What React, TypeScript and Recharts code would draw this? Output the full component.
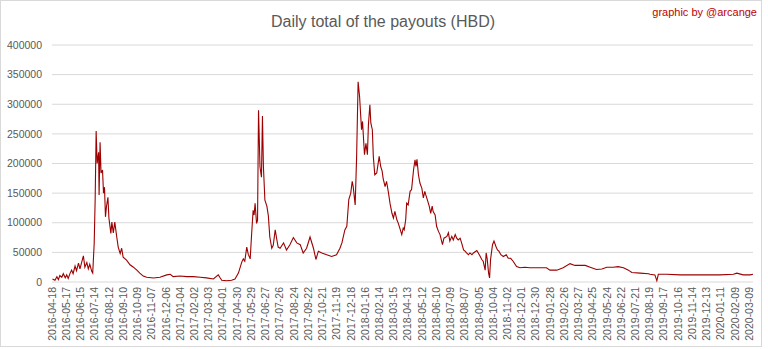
import React from 'react';
import { LineChart, Line, XAxis, YAxis, CartesianGrid } from 'recharts';

// days since 2016-04-18
const dayFromStart = [
  1, 6, 10, 13, 16, 20, 23, 27, 30, 33, 37, 40, 43, 47, 50, 54, 57, 61, 64, 67,
  71, 74, 77, 81, 83, 86, 88, 90, 92, 95, 96, 98, 100, 103, 105, 107, 109, 111, 114, 116,
  120, 122, 125, 128, 132, 135, 139, 142, 145, 152, 159, 166, 173, 179, 186, 193, 207, 220, 234, 241,
  247, 261, 275, 288, 302, 315, 329, 339, 342, 346, 356, 366, 373, 380, 387, 390, 393, 397, 400, 404,
  407, 410, 412, 414, 417, 419, 421, 424, 427, 429, 431, 434, 438, 441, 444, 448, 451, 455, 458, 461,
  465, 472, 478, 485, 492, 499, 506, 512, 519, 526, 533, 538, 543, 550, 560, 570, 580, 587, 591, 597,
  601, 605, 609, 612, 614, 618, 621, 624, 627, 631, 633, 637, 640, 643, 645, 648, 650, 653, 655, 658,
  662, 665, 667, 670, 673, 675, 679, 682, 686, 689, 693, 696, 699, 703, 706, 709, 713, 716, 718, 721,
  723, 726, 730, 733, 737, 740, 742, 744, 747, 750, 754, 757, 760, 762, 765, 769, 772, 775, 777, 781,
  784, 788, 791, 796, 799, 805, 808, 811, 815, 818, 822, 825, 828, 832, 835, 839, 842, 845, 849, 852,
  856, 859, 866, 869, 873, 876, 879, 883, 885, 887, 890, 892, 894, 898, 901, 905, 908, 911, 915, 920,
  926, 930, 935, 940, 947, 954, 964, 974, 995, 1008, 1015, 1029, 1042, 1056, 1066, 1076, 1087, 1097, 1110, 1121,
  1131, 1144, 1154, 1165, 1175, 1182, 1199, 1216, 1219, 1229, 1233, 1236, 1253, 1280, 1307, 1335, 1362, 1389, 1396, 1409,
  1423, 1429,
];

const payouts = [
  5000, 3000, 9000, 4000, 11000, 8000, 14000, 7000, 12000, 6000, 15000, 20000, 14000, 27000, 19000, 32000, 22000, 35000, 44000, 25000,
  33000, 22000, 30000, 18000, 15000, 65000, 140000, 255000, 200000, 219000, 147000, 236000, 184000, 189000, 150000, 160000, 110000, 127000, 143000, 108000,
  82000, 101000, 83000, 101000, 76000, 59000, 48000, 57000, 42000, 37000, 29000, 25000, 20000, 15000, 10000, 8000, 6700, 8000, 12000, 13000,
  9000, 10000, 9000, 9000, 8000, 7000, 5000, 12000, 8000, 3000, 2000, 3000, 5000, 15000, 34000, 39000, 35000, 59000, 47000, 39000,
  82000, 121000, 113000, 133000, 99000, 104000, 290000, 194000, 177000, 280000, 194000, 138000, 128000, 112000, 76000, 57000, 62000, 88000, 73000, 59000,
  57000, 66000, 54000, 63000, 75000, 66000, 63000, 49000, 57000, 76000, 57000, 38000, 52000, 49000, 46000, 43000, 46000, 57000, 66000, 88000,
  94000, 139000, 150000, 170000, 161000, 130000, 212000, 338000, 313000, 257000, 271000, 215000, 234000, 215000, 265000, 299000, 268000, 257000, 212000, 181000,
  184000, 201000, 212000, 195000, 187000, 175000, 161000, 170000, 150000, 133000, 116000, 108000, 119000, 105000, 99000, 91000, 80000, 91000, 88000, 105000,
  133000, 130000, 153000, 156000, 189000, 206000, 195000, 207000, 181000, 167000, 158000, 142000, 153000, 147000, 139000, 128000, 116000, 128000, 119000, 113000,
  94000, 85000, 80000, 63000, 74000, 77000, 83000, 69000, 77000, 71000, 80000, 74000, 71000, 74000, 66000, 54000, 52000, 49000, 46000, 49000,
  46000, 49000, 53000, 49000, 43000, 38000, 35000, 20000, 49000, 40000, 15000, 7000, 38000, 63000, 69000, 60000, 54000, 52000, 46000, 43000,
  46000, 40000, 40000, 35000, 26000, 24000, 25000, 24000, 24000, 24000, 20000, 20000, 24000, 31000, 28000, 28000, 28000, 25000, 21000, 22000,
  25000, 25000, 26000, 24000, 20000, 16000, 15000, 14000, 13000, 12000, 2000, 13000, 13000, 12000, 12000, 12000, 12000, 13000, 15000, 12000,
  12000, 13000,
];

const tickDates = [
  '2016-04-18', '2016-05-17', '2016-06-15', '2016-07-14', '2016-08-12', '2016-09-10', '2016-10-09', '2016-11-07',
  '2016-12-06', '2017-01-04', '2017-02-02', '2017-03-03', '2017-04-01', '2017-04-30', '2017-05-29', '2017-06-27',
  '2017-07-26', '2017-08-24', '2017-09-22', '2017-10-21', '2017-11-19', '2017-12-18', '2018-01-16', '2018-02-14',
  '2018-03-15', '2018-04-13', '2018-05-12', '2018-06-10', '2018-07-09', '2018-08-07', '2018-09-05', '2018-10-04',
  '2018-11-02', '2018-12-01', '2018-12-30', '2019-01-28', '2019-02-26', '2019-03-27', '2019-04-25', '2019-05-24',
  '2019-06-22', '2019-07-21', '2019-08-19', '2019-09-17', '2019-10-16', '2019-11-14', '2019-12-13', '2020-01-11',
  '2020-02-09', '2020-03-09',
];

const yTicks = [0, 50000, 100000, 150000, 200000, 250000, 300000, 350000, 400000];

const START = Date.parse('2016-04-18');
const toDay = (s: string) => Math.round((Date.parse(s) - START) / 86400000);

const data = dayFromStart.map((d, i) => ({ day: d, value: payouts[i] }));
const xTicks = tickDates.map(toDay);
const labelByDay: Record<number, string> = {};
tickDates.forEach((s) => { labelByDay[toDay(s)] = s; });

const FONT = '"Liberation Sans", Arial, sans-serif';

function DateTick({ x, y, payload }: any) {
  return (
    <text
      x={x}
      y={y}
      transform={`rotate(-90 ${x} ${y})`}
      textAnchor="end"
      dy="0.36em"
      fontSize={10.5}
      fontFamily={FONT}
      fill="#595959"
    >
      {labelByDay[payload.value]}
    </text>
  );
}

export default function App() {
  return (
    <div style={{ position: 'absolute', left: 0, top: 0, width: 768, height: 349, background: '#fff' }}>
      <LineChart
        width={768}
        height={349}
        data={data}
        margin={{ top: 45, right: 15, bottom: 7, left: 8 }}
      >
        <CartesianGrid horizontal vertical={false} stroke="#d9d9d9" strokeWidth={1} />
        <XAxis
          dataKey="day"
          type="number"
          domain={[0, 1429]}
          ticks={xTicks}
          interval={0}
          axisLine={false}
          tickLine={false}
          tickSize={0}
          tickMargin={5}
          height={60}
          tick={<DateTick />}
        />
        <YAxis
          type="number"
          domain={[0, 400000]}
          ticks={yTicks}
          interval={0}
          width={44}
          axisLine={false}
          tickLine={false}
          tickSize={0}
          tickMargin={10}
          tick={{ fontSize: 10.5, fontFamily: FONT, fill: '#595959' }}
        />
        <Line
          type="linear"
          dataKey="value"
          stroke="#9c0000"
          strokeWidth={1.1}
          dot={false}
          isAnimationActive={false}
        />
      </LineChart>
      <svg
        width={768}
        height={349}
        style={{ position: 'absolute', left: 0, top: 0, pointerEvents: 'none' }}
      >
        <rect x={0.5} y={0.5} width={761} height={346} fill="none" stroke="#d9d9d9" />
        <text x={383} y={27} textAnchor="middle" fontSize={16} fontFamily={FONT} fill="#595959">
          Daily total of the payouts (HBD)
        </text>
        <text x={757} y={16} textAnchor="end" fontSize={11} fontFamily={FONT} fill="#c00000">
          graphic by @arcange
        </text>
      </svg>
    </div>
  );
}
